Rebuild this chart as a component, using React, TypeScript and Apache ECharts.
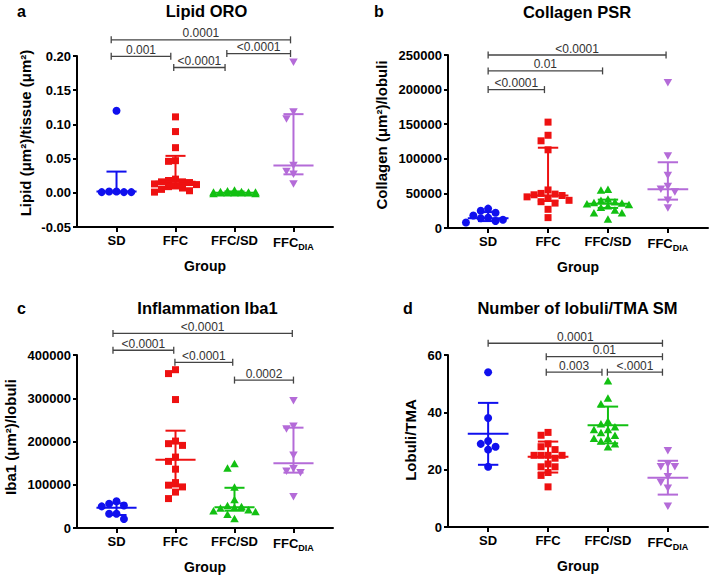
import React, { useEffect, useRef } from 'react';
import * as echarts from 'echarts';

const FONT = "'Liberation Sans', Arial, Helvetica, sans-serif";

const groups = ['SD', 'FFC', 'FFC/SD', 'FFC_DIA'];
const colors = ['#1010ee', '#ee1111', '#12c012', '#b46bd8'];
const symbols = ['circle', 'rect', 'triangle', 'triangle'];
const symbolRotations = [0, 0, 0, 180];

// ---- Panel a: Lipid ORO ----
const lipidSD = [0.12, 0.002, 0.001, 0.001, 0.001, 0.002];
const lipidFFC = [0.111, 0.0895, 0.066, 0.047, 0.046, 0.02, 0.018, 0.016, 0.016, 0.015, 0.013, 0.012, 0.01, 0.009, 0.007, 0.005, 0.003, 0.001];
const lipidFFCSD = [0.004, 0.003, 0.002, 0.002, 0.001, 0.001, 0.001, 0.0, 0.0, 0.0, 0.0, -0.001, -0.001, 0.0, 0.001];
const lipidDIA = [0.191, 0.118, 0.108, 0.04, 0.031, 0.027, 0.013];
const lipidStats = [[0.002, 0.001, 0.031], [0.016, 0.009, 0.054], [0.0, -0.001, 0.002], [0.04, 0.027, 0.115]];
const lipidBrackets = [[-0.09, 2.95, 0.2236], [-0.09, 0.92, 0.1995], [0.97, 1.84, 0.1832], [1.87, 2.95, 0.2036]];
const lipidBracketLabels = ['0.0001', '0.001', '<0.0001', '<0.0001'];
const lipidYTicks = [-0.05, 0.0, 0.05, 0.1, 0.15, 0.2];

// ---- Panel b: Collagen PSR ----
const collSD = [28000, 25000, 22000, 18000, 15000, 14000, 12000, 10000, 8000];
const collFFC = [153000, 134000, 126000, 113000, 55000, 50000, 49000, 48000, 47000, 45000, 43000, 40000, 38000, 36000, 27000, 15000];
const collFFCSD = [56000, 55000, 42000, 40000, 38000, 37000, 36000, 35000, 34000, 32000, 30000, 26000, 22000, 22000, 13000];
const collDIA = [210000, 104000, 76000, 60000, 56000, 52000, 40000, 29000];
const collStats = [[14000, 10000, 23000], [47000, 39000, 116000], [35000, 29000, 41000], [56000, 41000, 95000]];
const collBrackets = [[0, 2.97, 250000], [0, 1.91, 227000], [0, 0.94, 200000]];
const collBracketLabels = ['<0.0001', '0.01', '<0.0001'];
const collYTicks = [0, 50000, 100000, 150000, 200000, 250000];

// ---- Panel c: Inflammation Iba1 ----
const ibaSD = [62000, 56000, 52000, 50000, 33000, 33000, 21000];
const ibaFFC = [366000, 357000, 297000, 201000, 195000, 191000, 164000, 154000, 136000, 105000, 99000, 95000, 83000, 68000];
const ibaFFCSD = [149000, 139000, 95000, 66000, 52000, 50000, 48000, 46000, 42000, 40000, 38000, 32000, 22000];
const ibaDIA = [294000, 235000, 229000, 168000, 137000, 131000, 128000, 72000];
const ibaStats = [[47000, 30000, 57000], [158000, 96000, 225000], [48000, 40000, 93000], [150000, 128000, 232000]];
const ibaBrackets = [[-0.06, 2.98, 450000], [-0.06, 0.97, 411000], [0.99, 1.97, 383000], [2.0, 3.0, 342000]];
const ibaBracketLabels = ['<0.0001', '<0.0001', '<0.0001', '0.0002'];
const ibaYTicks = [0, 100000, 200000, 300000, 400000];

// ---- Panel d: Number of lobuli/TMA SM ----
const lobSD = [54, 38, 30, 29, 28, 27, 21];
const lobFFC = [33, 32, 29, 28, 27, 25, 25, 25, 25, 24, 22, 21, 21, 19, 18, 14];
const lobFFCSD = [51, 45, 43, 37, 36, 35, 34, 34, 33, 32, 31, 31, 30, 29, 28];
const lobDIA = [26.6, 22, 21, 21, 17.5, 15.5, 13.5, 7.2];
const lobStats = [[32.5, 21.7, 43.3], [24.5, 19, 29.8], [35.5, 29.2, 42], [17.2, 11.3, 23.1]];
const lobBrackets = [[0, 2.91, 64.1], [0.97, 2.91, 59.4], [0.97, 1.9, 54], [1.99, 2.91, 54]];
const lobBracketLabels = ['0.0001', '0.01', '0.003', '<.0001'];
const lobYTicks = [0, 20, 40, 60];

const X_MIN = -0.67;
const X_MAX = 3.67;

const panels = [
  {
    letter: 'a', title: 'Lipid ORO', yName: 'Lipid (μm²)/tissue (μm²)',
    grid: { left: 77, top: 56, width: 256, height: 171 },
    letterPos: [21.5, 11], titlePos: [206.5, 11], yNamePos: [25, 133],
    values: [lipidSD, lipidFFC, lipidFFCSD, lipidDIA], stats: lipidStats,
    brackets: lipidBrackets, bracketLabels: lipidBracketLabels, yTicks: lipidYTicks,
    fmt: (v: number) => v.toFixed(2),
  },
  {
    letter: 'b', title: 'Collagen PSR', yName: 'Collagen (μm²)/lobuli',
    grid: { left: 448, top: 55, width: 260, height: 173 },
    letterPos: [379, 11], titlePos: [577, 12], yNamePos: [381.5, 135],
    values: [collSD, collFFC, collFFCSD, collDIA], stats: collStats,
    brackets: collBrackets, bracketLabels: collBracketLabels, yTicks: collYTicks,
    fmt: (v: number) => String(Math.round(v)),
  },
  {
    letter: 'c', title: 'Inflammation Iba1', yName: 'Iba1 (μm²)/lobuli',
    grid: { left: 77, top: 355, width: 256, height: 173 },
    letterPos: [21.5, 308], titlePos: [207.5, 307.5], yNamePos: [10, 437],
    values: [ibaSD, ibaFFC, ibaFFCSD, ibaDIA], stats: ibaStats,
    brackets: ibaBrackets, bracketLabels: ibaBracketLabels, yTicks: ibaYTicks,
    fmt: (v: number) => String(Math.round(v)),
  },
  {
    letter: 'd', title: 'Number of lobuli/TMA SM', yName: 'Lobuli/TMA',
    grid: { left: 448, top: 355, width: 260, height: 172 },
    letterPos: [408, 308], titlePos: [577.5, 307.5], yNamePos: [410, 440],
    values: [lobSD, lobFFC, lobFFCSD, lobDIA], stats: lobStats,
    brackets: lobBrackets, bracketLabels: lobBracketLabels, yTicks: lobYTicks,
    fmt: (v: number) => String(Math.round(v)),
  },
];

function swarm(vals: number[], pxY: number, pxX: number, d: number): number[] {
  const n = vals.length;
  const idx = vals.map((_, i) => i).sort((a, b) => vals[b] - vals[a]);
  const placed: number[][] = [];
  const off = new Array(n).fill(0);
  const ks = [0, -1, 1, -2, 2, -3, 3];
  for (const i of idx) {
    const y = vals[i] * pxY;
    let best = 0;
    let bestD = -1;
    for (const k of ks) {
      const x = k * d;
      let m = Infinity;
      for (const p of placed) m = Math.min(m, Math.hypot(x - p[0], y - p[1]));
      if (m >= d) { best = x; bestD = Infinity; break; }
      if (m > bestD) { bestD = m; best = x; }
    }
    placed.push([best, y]);
    off[i] = best / pxX;
  }
  return off;
}

function buildOption() {
  const grid: any[] = [];
  const xAxis: any[] = [];
  const yAxis: any[] = [];
  const series: any[] = [];
  const graphic: any[] = [];
  const symSizes: any[] = [8, 7, [8.5, 7.5], [8.5, 7.5]];
  const steps = [7.4, 7, 7, 7];

  panels.forEach((p, pi) => {
    grid.push({ ...p.grid, containLabel: false });
    const yMin = p.yTicks[0];
    const yMax = p.yTicks[p.yTicks.length - 1];
    const yInt = p.yTicks[1] - p.yTicks[0];
    xAxis.push({
      type: 'value', gridIndex: pi, min: X_MIN, max: X_MAX,
      name: 'Group', nameLocation: 'middle', nameGap: 32,
      nameTextStyle: { fontSize: 14, fontWeight: 'bold', color: '#000', fontFamily: FONT },
      axisLine: { onZero: false, lineStyle: { color: '#000', width: 2 } },
      axisTick: { customValues: [0, 1, 2, 3], length: 5, lineStyle: { color: '#000', width: 2 } },
      axisLabel: {
        customValues: [0, 1, 2, 3], margin: 7,
        formatter: (v: number) => {
          const i = Math.round(v);
          if (i === 3) return '{m|FFC}{s|DIA}';
          return '{m|' + groups[i] + '}';
        },
        rich: {
          m: { fontSize: 13, fontWeight: 'bold', color: '#000', fontFamily: FONT },
          s: { fontSize: 9, fontWeight: 'bold', color: '#000', fontFamily: FONT, padding: [8, 0, 0, 0] },
        },
      },
      splitLine: { show: false },
    });
    yAxis.push({
      type: 'value', gridIndex: pi, min: yMin, max: yMax, interval: yInt,
      axisLine: { show: true, onZero: false, lineStyle: { color: '#000', width: 2 } },
      axisTick: { show: true, length: 4, lineStyle: { color: '#000', width: 2 } },
      axisLabel: { margin: 6, fontSize: 13, fontWeight: 'bold', color: '#000', fontFamily: FONT, formatter: p.fmt },
      splitLine: { show: false },
    });

    const pxY = p.grid.height / (yMax - yMin);
    const pxX = p.grid.width / (X_MAX - X_MIN);

    p.values.forEach((vals, g) => {
      const off = swarm(vals, pxY, pxX, steps[g]);
      series.push({
        type: 'scatter', xAxisIndex: pi, yAxisIndex: pi,
        data: vals.map((v, i) => [g + off[i], v]),
        symbol: symbols[g], symbolRotate: symbolRotations[g], symbolSize: symSizes[g],
        itemStyle: { color: colors[g], opacity: 1 },
        z: 2, silent: true,
      });
    });

    series.push({
      type: 'custom', xAxisIndex: pi, yAxisIndex: pi, z: 3, silent: true, clip: false,
      encode: { x: 0, y: [1, 2, 3] },
      data: p.stats.map((s, g) => [g, s[0], s[1], s[2]]),
      renderItem: (params: any, api: any) => {
        const g = api.value(0);
        const c = api.coord([g, api.value(1)]);
        const lo = api.coord([g, api.value(2)]);
        const hi = api.coord([g, api.value(3)]);
        const l = api.coord([g - 0.34, api.value(1)])[0];
        const r = api.coord([g + 0.34, api.value(1)])[0];
        const cl = api.coord([g - 0.17, api.value(1)])[0];
        const cr = api.coord([g + 0.17, api.value(1)])[0];
        const st = () => ({ stroke: colors[g], lineWidth: 2 });
        return {
          type: 'group',
          children: [
            { type: 'line', shape: { x1: l, y1: c[1], x2: r, y2: c[1] }, style: st() },
            { type: 'line', shape: { x1: c[0], y1: lo[1], x2: c[0], y2: hi[1] }, style: st() },
            { type: 'line', shape: { x1: cl, y1: lo[1], x2: cr, y2: lo[1] }, style: st() },
            { type: 'line', shape: { x1: cl, y1: hi[1], x2: cr, y2: hi[1] }, style: st() },
          ],
        };
      },
    });

    const labels = p.bracketLabels;
    series.push({
      type: 'custom', xAxisIndex: pi, yAxisIndex: pi, z: 4, silent: true, clip: false,
      encode: { x: [0, 1], y: 2 },
      data: p.brackets,
      renderItem: (params: any, api: any) => {
        const y = api.value(2);
        const p1 = api.coord([api.value(0), y]);
        const p2 = api.coord([api.value(1), y]);
        const cap = 3.5;
        const st = () => ({ stroke: '#444', lineWidth: 1.3 });
        return {
          type: 'group',
          children: [
            { type: 'line', shape: { x1: p1[0], y1: p1[1], x2: p2[0], y2: p2[1] }, style: st() },
            { type: 'line', shape: { x1: p1[0], y1: p1[1] - cap, x2: p1[0], y2: p1[1] + cap }, style: st() },
            { type: 'line', shape: { x1: p2[0], y1: p2[1] - cap, x2: p2[0], y2: p2[1] + cap }, style: st() },
            {
              type: 'text', x: (p1[0] + p2[0]) / 2, y: p1[1] - 0.5,
              style: { text: labels[params.dataIndex], fill: '#333', fontSize: 12, fontFamily: FONT, align: 'center', verticalAlign: 'bottom' },
            },
          ],
        };
      },
    });

    graphic.push({
      type: 'text', x: p.letterPos[0], y: p.letterPos[1],
      style: { text: p.letter, fill: '#000', fontSize: 16, fontWeight: 'bold', fontFamily: FONT, align: 'center', verticalAlign: 'middle' },
    });
    graphic.push({
      type: 'text', x: p.titlePos[0], y: p.titlePos[1],
      style: { text: p.title, fill: '#000', fontSize: 16.5, fontWeight: 'bold', fontFamily: FONT, align: 'center', verticalAlign: 'middle' },
    });
    graphic.push({
      type: 'text', x: p.yNamePos[0], y: p.yNamePos[1], rotation: Math.PI / 2,
      style: { text: p.yName, fill: '#000', fontSize: 15, fontWeight: 'bold', fontFamily: FONT, align: 'center', verticalAlign: 'middle' },
    });
  });

  return {
    animation: false,
    backgroundColor: '#fff',
    textStyle: { fontFamily: FONT },
    grid, xAxis, yAxis, series, graphic,
  };
}

export default function App() {
  const ref = useRef<HTMLDivElement>(null);
  useEffect(() => {
    if (!ref.current) return;
    const chart = echarts.init(ref.current, null, { renderer: 'svg' });
    chart.setOption(buildOption() as any);
    return () => chart.dispose();
  }, []);
  return (
    <div
      ref={ref}
      style={{ position: 'absolute', left: 0, top: 0, width: 709, height: 575, background: '#fff' }}
    />
  );
}
